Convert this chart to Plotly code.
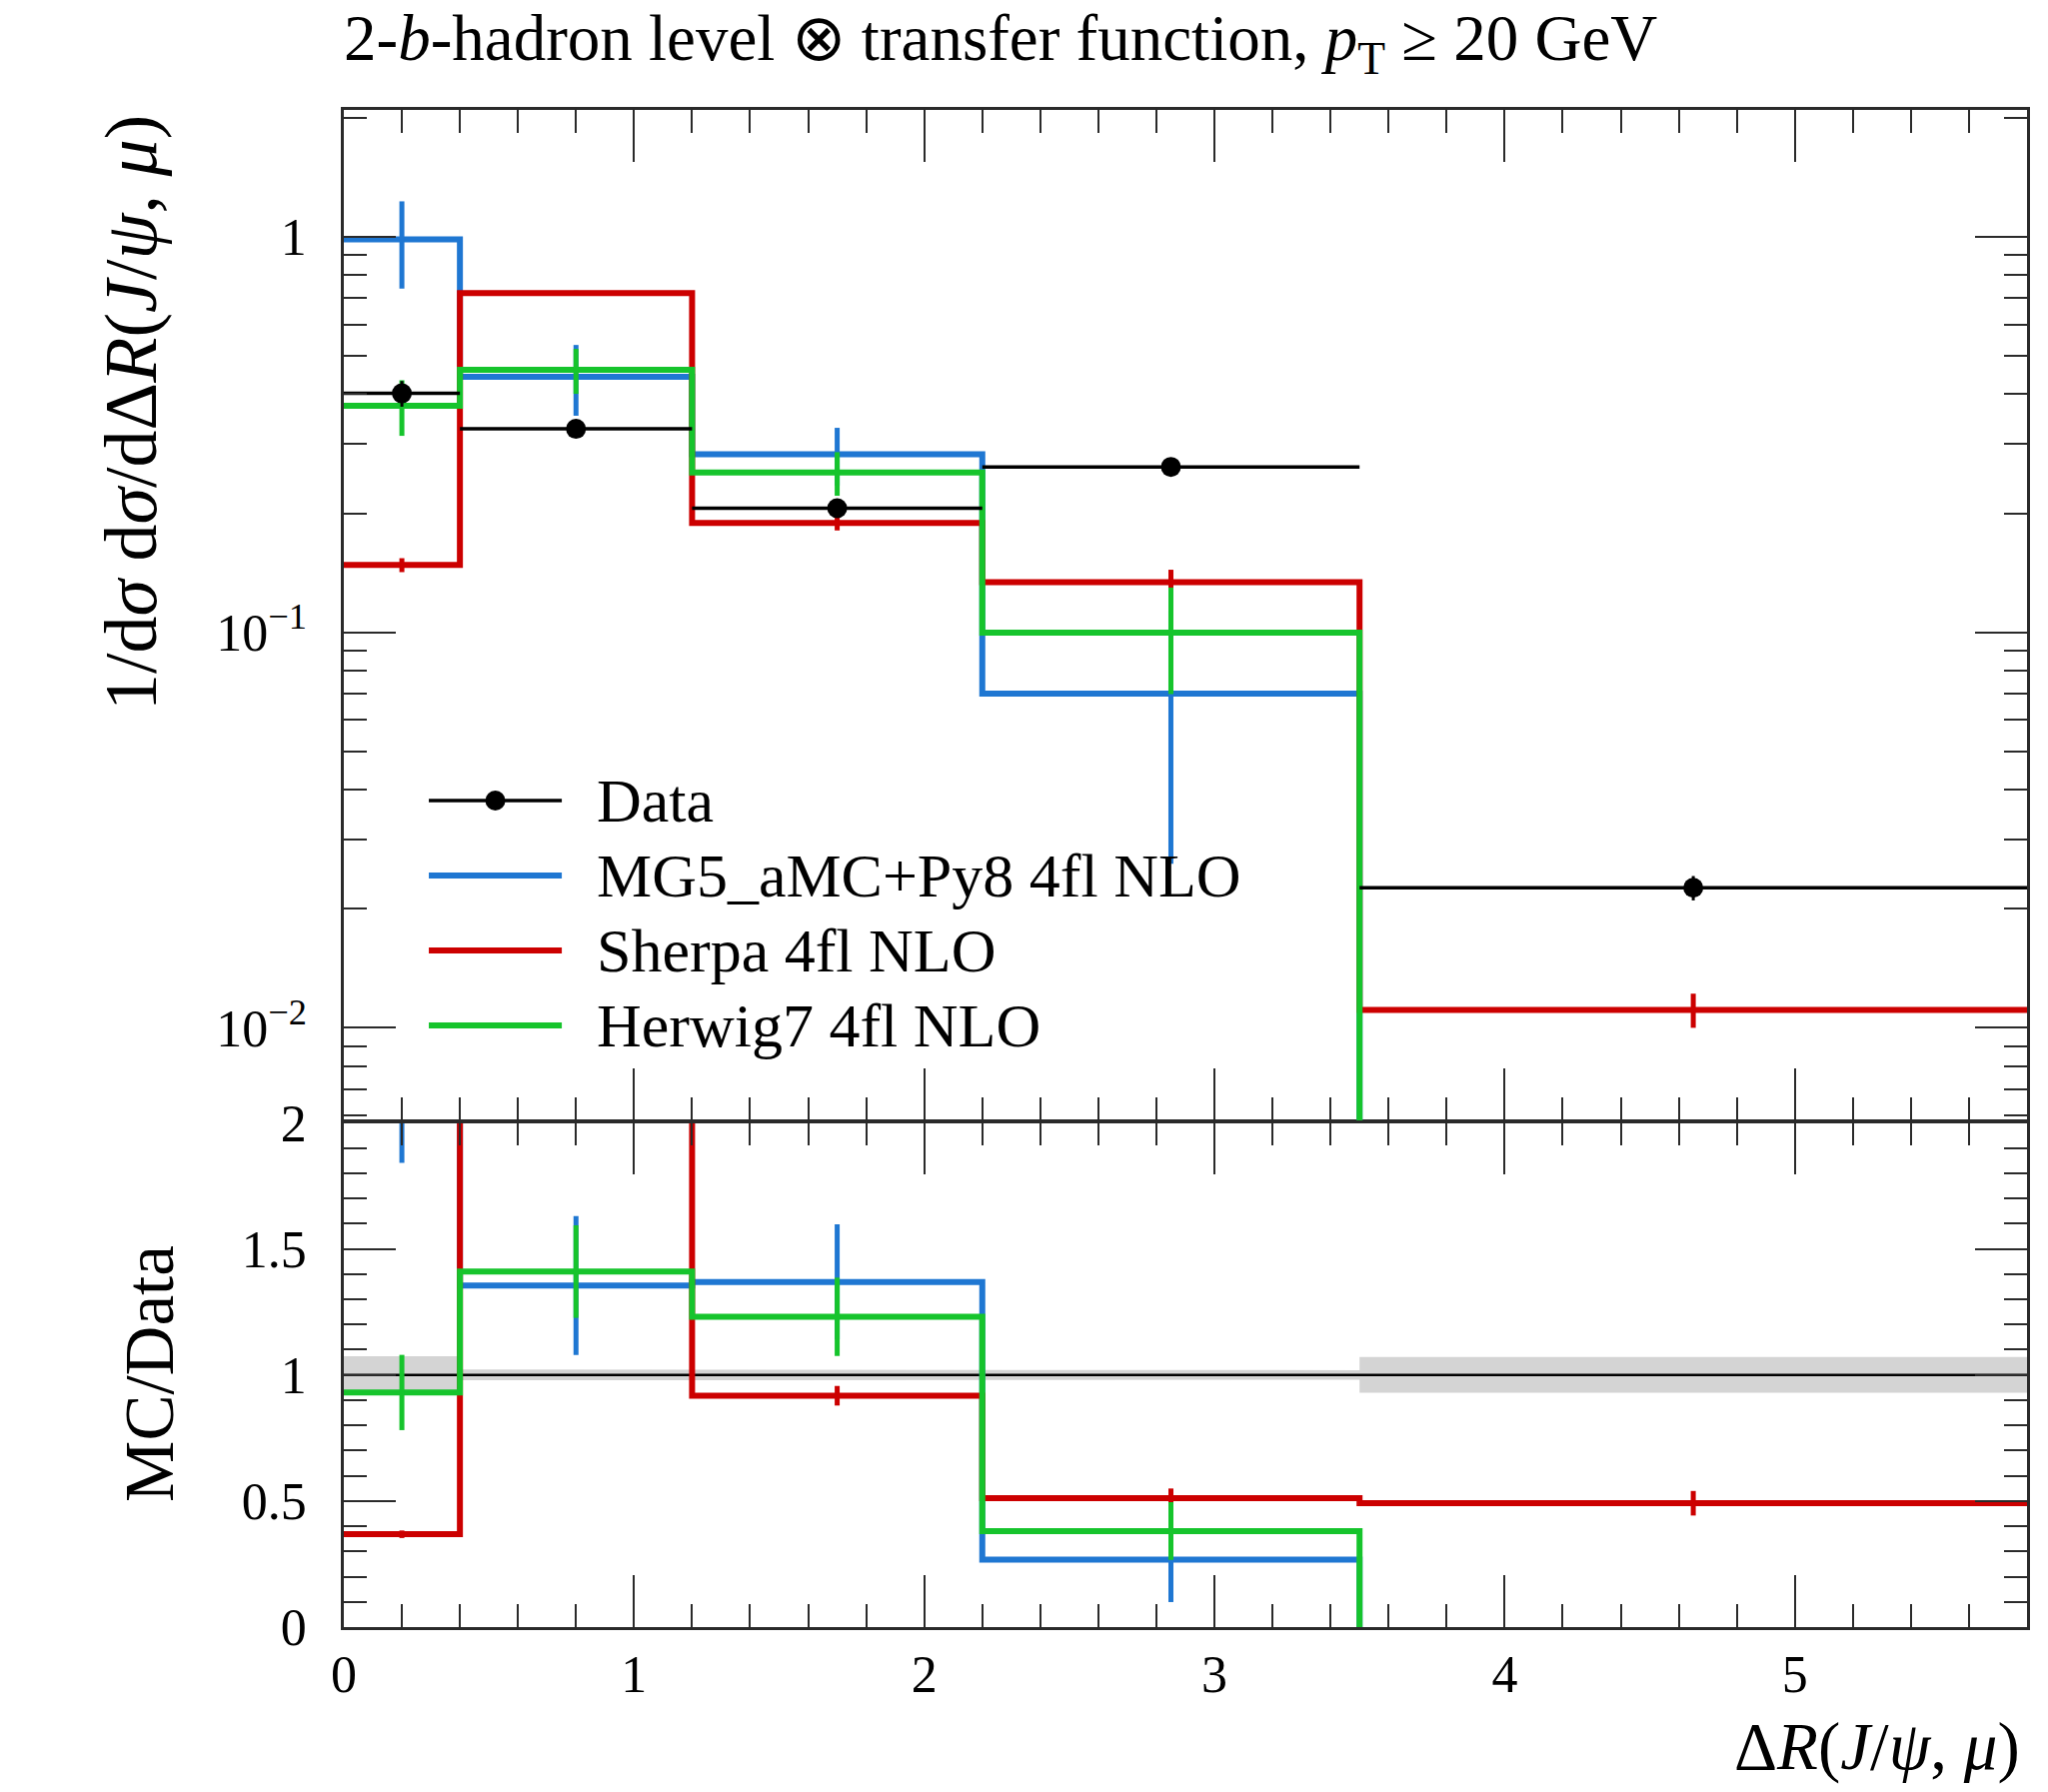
import numpy as np
import plotly.graph_objects as go

# ---- binning in ΔR(J/ψ, μ) ----
bin_edges = [0.0, 0.4, 1.2, 2.2, 3.5, 5.8]

# ---- unfolded data: normalised cross section and uncertainty ----
data_vals = [0.402, 0.327, 0.206, 0.262, 0.0226]
data_errs = [0.030, 0.007, 0.004, 0.005, 0.0016]

# ---- MC predictions ----
mg5_vals = [0.985, 0.443, 0.282, 0.070, 0.0]
mg5_errs = [0.245, 0.090, 0.047, 0.044, 0.0]
sherpa_vals = [0.148, 0.721, 0.189, 0.134, 0.0111]
sherpa_errs = [0.006, 0.010, 0.008, 0.010, 0.0011]
herwig_vals = [0.374, 0.461, 0.2535, 0.0998, 0.0]
herwig_errs = [0.060, 0.060, 0.032, 0.030, 0.0]

series_names = ["MG5_aMC+Py8 4fl NLO", "Sherpa 4fl NLO", "Herwig7 4fl NLO"]
series_colors = ["#1f77d2", "#cc0000", "#16c42c"]
series_vals = [mg5_vals, sherpa_vals, herwig_vals]
series_errs = [mg5_errs, sherpa_errs, herwig_errs]

x_major = [0, 1, 2, 3, 4, 5]
ratio_ticks = [0, 0.5, 1, 1.5, 2]
ratio_labels = ["0", "0.5", "1", "1.5", "2"]
log_ticks = [0.01, 0.1, 1]
log_labels = ["10<sup>−2</sup>", "10<sup>−1</sup>", "1"]

# ---- style ----
FONT = "Liberation Serif"
AXCOL = "#2a2a2a"
MC_WIDTH = 6
EMPTY_LOG = 1e-9      # drawing floor for empty bins on the log panel
EMPTY_RATIO = -1.0    # drawing floor for empty bins on the ratio panel

edges = np.array(bin_edges)
centers = 0.5 * (edges[:-1] + edges[1:])
data = np.array(data_vals)
derr = np.array(data_errs)


def step(vals):
    """x/y arrays for a histogram outline drawn with line_shape='hv'."""
    v = list(vals)
    return list(edges), v + [v[-1]]


fig = go.Figure()

# ======== ratio panel (x, y) ========
# data uncertainty band
band = derr / data
up = 1 + band
lo = 1 - band
bx, by = [], []
for i in range(len(data)):
    bx += [edges[i], edges[i + 1]]
    by += [up[i], up[i]]
for i in reversed(range(len(data))):
    bx += [edges[i + 1], edges[i]]
    by += [lo[i], lo[i]]
fig.add_trace(go.Scatter(x=bx, y=by, fill="toself", fillcolor="#d4d4d4",
                         line=dict(width=0), mode="lines", hoverinfo="skip",
                         xaxis="x", yaxis="y", showlegend=False))
fig.add_trace(go.Scatter(x=[edges[0], edges[-1]], y=[data[0] / data[0]] * 2,
                         mode="lines", line=dict(color="black", width=2.5),
                         xaxis="x", yaxis="y", showlegend=False))

for name, col, vals, errs in zip(series_names, series_colors, series_vals, series_errs):
    v = np.array(vals)
    e = np.array(errs)
    r = np.where(v > 0, v / data, EMPTY_RATIO)
    sx, sy = step(r)
    fig.add_trace(go.Scatter(x=sx, y=sy, mode="lines", line_shape="hv",
                             line=dict(color=col, width=MC_WIDTH),
                             xaxis="x", yaxis="y", showlegend=False))
    ry = [float(a) if b > 0 else None for a, b in zip(r, v)]
    fig.add_trace(go.Scatter(x=centers, y=ry, mode="markers",
                             marker=dict(size=1, color="rgba(0,0,0,0)"),
                             error_y=dict(type="data", array=list(e / data), width=0,
                                          thickness=5, color=col),
                             xaxis="x", yaxis="y", showlegend=False))

# ======== main panel (x2, y2) ========
for name, col, vals, errs in zip(series_names, series_colors, series_vals, series_errs):
    v = np.array(vals)
    sx, sy = step(np.where(v > 0, v, EMPTY_LOG))
    fig.add_trace(go.Scatter(x=sx, y=sy, mode="lines", line_shape="hv",
                             line=dict(color=col, width=MC_WIDTH),
                             xaxis="x2", yaxis="y2", showlegend=False))
    py = [float(a) if a > 0 else None for a in v]
    fig.add_trace(go.Scatter(x=centers, y=py, mode="markers",
                             marker=dict(size=1, color="rgba(0,0,0,0)"),
                             error_y=dict(type="data", array=list(errs), width=0,
                                          thickness=5, color=col),
                             xaxis="x2", yaxis="y2", showlegend=False))

# data: horizontal bin-width bars + points with error bars
hx, hy = [], []
for i in range(len(data)):
    hx += [edges[i], edges[i + 1], None]
    hy += [data[i], data[i], None]
fig.add_trace(go.Scatter(x=hx, y=hy, mode="lines", line=dict(color="black", width=3.5),
                         xaxis="x2", yaxis="y2", showlegend=False))
fig.add_trace(go.Scatter(x=centers, y=data, mode="markers",
                         marker=dict(size=20, color="black"),
                         error_y=dict(type="data", array=data_errs, width=0,
                                      thickness=3, color="black"),
                         xaxis="x2", yaxis="y2", showlegend=False))

# ======== axes ========
x_minor = [round(0.2 * k, 1) for k in range(0, 30) if round(0.2 * k, 1) % 1 != 0]
log_minor = [m * 10.0 ** d for d in range(-3, 1) for m in range(2, 10)]
ratio_minor = [round(0.1 * k, 1) for k in range(0, 21) if round(0.1 * k, 1) % 0.5 != 0]

common = dict(showline=True, linecolor=AXCOL, linewidth=2.5, mirror="ticks",
              ticks="inside", ticklen=52, tickwidth=2.2, tickcolor=AXCOL,
              showgrid=False, zeroline=False,
              tickfont=dict(family=FONT, size=52, color="black"))
minor_style = dict(tickmode="array", ticks="inside", ticklen=23, tickwidth=2.2, tickcolor=AXCOL)

# the two panels share one frame line at the boundary
RATIO_TOP = 0.3324
MAIN_BOTTOM = 0.334

fig.update_layout(
    width=2049, height=1793,
    margin=dict(l=344, r=21, t=110, b=165),
    paper_bgcolor="white", plot_bgcolor="white",
    showlegend=False,
    xaxis=dict(domain=[0, 1], range=[edges[0], edges[-1]], anchor="y",
               tickmode="array", tickvals=x_major, ticktext=[str(t) for t in x_major],
               ticklabelstandoff=0,
               minor=dict(tickvals=x_minor, **minor_style),
               **common),
    yaxis=dict(domain=[0, RATIO_TOP], range=[0, 2], anchor="x",
               tickmode="array", tickvals=ratio_ticks, ticktext=ratio_labels,
               ticklabelstandoff=24,
               minor=dict(tickvals=ratio_minor, **minor_style),
               **common),
    xaxis2=dict(domain=[0, 1], range=[edges[0], edges[-1]], anchor="y2", matches="x",
                showticklabels=False,
                tickmode="array", tickvals=x_major,
                minor=dict(tickvals=x_minor, **minor_style),
                **common),
    yaxis2=dict(domain=[MAIN_BOTTOM, 1], type="log", range=[-2.234, 0.321], anchor="x2",
                tickmode="array", tickvals=log_ticks, ticktext=log_labels,
                ticklabelstandoff=24,
                minor=dict(tickvals=log_minor, **minor_style),
                **common),
)

# ======== titles ========
ann = []
ann.append(dict(text="2-<i>b</i>-hadron level ⊗ transfer function, <i>p</i><sub>T</sub> ≥ 20 GeV",
                xref="paper", yref="paper", x=-0.001, y=1.044, xanchor="left", yanchor="middle",
                showarrow=False, font=dict(family=FONT, size=65, color="black")))
ann.append(dict(text="Δ<i>R</i>(<i>J</i>/<i>ψ</i>, <i>μ</i>)",
                xref="paper", yref="paper", x=0.997, y=-0.079, xanchor="right", yanchor="middle",
                showarrow=False, font=dict(family=FONT, size=67, color="black")))
ann.append(dict(text="1/d<i>σ</i> d<i>σ</i>/dΔ<i>R</i>(<i>J</i>/<i>ψ</i>, <i>μ</i>)",
                xref="paper", yref="paper", x=-0.1265, y=0.998, xanchor="center", yanchor="top",
                textangle=-90, showarrow=False, font=dict(family=FONT, size=74, color="black")))
ann.append(dict(text="MC/Data",
                xref="paper", yref="paper", x=-0.1152, y=0.1667, xanchor="center", yanchor="middle",
                textangle=-90, showarrow=False, font=dict(family=FONT, size=69, color="black")))

# ======== legend (drawn in paper coordinates) ========
LEG_X0, LEG_X1, LEG_TX = 0.0505, 0.1295, 0.149
LEG_Y0, LEG_DY = 0.5448, 0.0494
shapes = []
legend_entries = [("Data", "black", 3.5)] + [(n, c, MC_WIDTH) for n, c in zip(series_names, series_colors)]
for k, (name, col, w) in enumerate(legend_entries):
    yk = LEG_Y0 - k * LEG_DY
    shapes.append(dict(type="line", xref="paper", yref="paper", x0=LEG_X0, x1=LEG_X1,
                       y0=yk, y1=yk, line=dict(color=col, width=w)))
    if k == 0:
        shapes.append(dict(type="circle", xref="paper", yref="paper",
                           xsizemode="pixel", ysizemode="pixel",
                           xanchor=0.5 * (LEG_X0 + LEG_X1), yanchor=yk,
                           x0=-10, x1=10, y0=-10, y1=10,
                           fillcolor="black", line=dict(color="black", width=0)))
    ann.append(dict(text=name, xref="paper", yref="paper", x=LEG_TX, y=yk,
                    xanchor="left", yanchor="middle", showarrow=False,
                    font=dict(family=FONT, size=62, color="black")))

fig.update_layout(annotations=ann, shapes=shapes)
fig.write_html("out.html")
